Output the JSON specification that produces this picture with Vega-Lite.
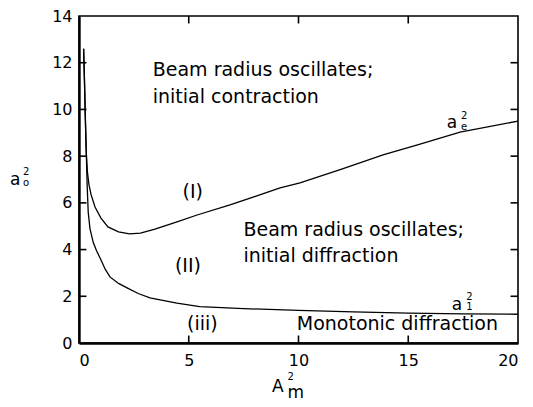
{
  "$schema": "https://vega.github.io/schema/vega-lite/v6.json",
  "width": 439,
  "height": 327,
  "autosize": {"type": "none"},
  "padding": {"left": 79, "top": 16, "right": 15, "bottom": 64},
  "background": "white",
  "config": {
    "view": {"stroke": "black", "strokeWidth": 1.6},
    "axis": {
      "grid": false,
      "labelFont": "DejaVu Sans",
      "labelFontSize": 16,
      "labelColor": "black",
      "tickColor": "black",
      "domainColor": "black"
    }
  },
  "datasets": {
    "curves": [
      {"curve": "ae", "x": 0.21, "y": 12.6},
      {"curve": "ae", "x": 0.25, "y": 11.2},
      {"curve": "ae", "x": 0.29, "y": 9.6},
      {"curve": "ae", "x": 0.33, "y": 8.2},
      {"curve": "ae", "x": 0.38, "y": 7.35},
      {"curve": "ae", "x": 0.45, "y": 6.8},
      {"curve": "ae", "x": 0.55, "y": 6.35},
      {"curve": "ae", "x": 0.73, "y": 5.82},
      {"curve": "ae", "x": 1.0, "y": 5.35},
      {"curve": "ae", "x": 1.32, "y": 4.97},
      {"curve": "ae", "x": 1.8, "y": 4.76},
      {"curve": "ae", "x": 2.3, "y": 4.67},
      {"curve": "ae", "x": 2.8, "y": 4.7},
      {"curve": "ae", "x": 3.46, "y": 4.88},
      {"curve": "ae", "x": 4.5, "y": 5.2},
      {"curve": "ae", "x": 5.38, "y": 5.48},
      {"curve": "ae", "x": 6.88, "y": 5.91},
      {"curve": "ae", "x": 8.0, "y": 6.27},
      {"curve": "ae", "x": 9.16, "y": 6.64},
      {"curve": "ae", "x": 10.07, "y": 6.86},
      {"curve": "ae", "x": 12.0, "y": 7.45},
      {"curve": "ae", "x": 13.85, "y": 8.05},
      {"curve": "ae", "x": 15.5, "y": 8.5},
      {"curve": "ae", "x": 17.36, "y": 9.03},
      {"curve": "ae", "x": 20.0, "y": 9.5},
      {"curve": "a1", "x": 0.21, "y": 12.6},
      {"curve": "a1", "x": 0.25, "y": 11.2},
      {"curve": "a1", "x": 0.29, "y": 9.6},
      {"curve": "a1", "x": 0.33, "y": 8.2},
      {"curve": "a1", "x": 0.37, "y": 6.8},
      {"curve": "a1", "x": 0.42, "y": 5.6},
      {"curve": "a1", "x": 0.5, "y": 4.9},
      {"curve": "a1", "x": 0.65, "y": 4.3},
      {"curve": "a1", "x": 0.8, "y": 3.95},
      {"curve": "a1", "x": 0.96, "y": 3.64},
      {"curve": "a1", "x": 1.2, "y": 3.15},
      {"curve": "a1", "x": 1.41, "y": 2.83},
      {"curve": "a1", "x": 1.8, "y": 2.55},
      {"curve": "a1", "x": 2.19, "y": 2.36},
      {"curve": "a1", "x": 2.7, "y": 2.12},
      {"curve": "a1", "x": 3.23, "y": 1.93},
      {"curve": "a1", "x": 4.46, "y": 1.71},
      {"curve": "a1", "x": 5.5, "y": 1.56},
      {"curve": "a1", "x": 7.5, "y": 1.47},
      {"curve": "a1", "x": 10.0, "y": 1.4},
      {"curve": "a1", "x": 12.5, "y": 1.33},
      {"curve": "a1", "x": 15.0, "y": 1.28},
      {"curve": "a1", "x": 17.5, "y": 1.25},
      {"curve": "a1", "x": 20.0, "y": 1.23}
    ],
    "xticks": [{"t": 5}, {"t": 10}, {"t": 15}],
    "yticks": [{"t": 2}, {"t": 4}, {"t": 6}, {"t": 8}, {"t": 10}, {"t": 12}],
    "big": [
      {"label": "Beam radius oscillates;", "x": 3.36, "y": 11.43},
      {"label": "initial contraction", "x": 3.36, "y": 10.28},
      {"label": "Beam radius oscillates;", "x": 7.49, "y": 4.6},
      {"label": "initial diffraction", "x": 7.49, "y": 3.48},
      {"label": "Monotonic diffraction", "x": 9.92, "y": 0.56},
      {"label": "(I)", "x": 4.72, "y": 6.2},
      {"label": "(II)", "x": 4.37, "y": 3.05},
      {"label": "(iii)", "x": 4.92, "y": 0.56}
    ],
    "mid": [
      {"label": "a", "x": -3.14, "y": 6.77},
      {"label": "a", "x": 16.75, "y": 9.19},
      {"label": "a", "x": 16.98, "y": 1.42},
      {"label": "A", "x": 8.79, "y": -2.1},
      {"label": "m", "x": 9.5, "y": -2.35}
    ],
    "small": [
      {"label": "2", "x": 17.4, "y": 9.57},
      {"label": "e", "x": 17.4, "y": 9.12},
      {"label": "2", "x": 17.64, "y": 1.84},
      {"label": "1", "x": 17.64, "y": 1.42},
      {"label": "2", "x": -2.55, "y": 7.19},
      {"label": "o", "x": -2.55, "y": 6.72},
      {"label": "2", "x": 9.5, "y": -1.58}
    ]
  },
  "layer": [
    {
      "data": {"name": "curves"},
      "mark": {"type": "line", "color": "black", "strokeWidth": 1.3, "clip": false},
      "encoding": {
        "x": {"field": "x", "type": "quantitative", "title": null,
              "scale": {"domain": [0, 20], "nice": false, "zero": false},
              "axis": {"orient": "bottom", "values": [0, 5, 10, 15, 20], "ticks": false, "labelPadding": 9, "domainWidth": 2.4}},
        "y": {"field": "y", "type": "quantitative", "title": null,
              "scale": {"domain": [0, 14], "nice": false, "zero": false},
              "axis": {"orient": "left", "values": [0, 2, 4, 6, 8, 10, 12, 14], "ticks": false, "labelPadding": 7, "domainWidth": 2.4}},
        "detail": {"field": "curve"}
      }
    },
    {
      "data": {"name": "xticks"},
      "mark": {"type": "rule", "color": "black", "strokeWidth": 1.6},
      "encoding": {
        "x": {"field": "t", "type": "quantitative"},
        "y": {"datum": 0},
        "y2": {"datum": 0.32}
      }
    },
    {
      "data": {"name": "xticks"},
      "mark": {"type": "rule", "color": "black", "strokeWidth": 1.6},
      "encoding": {
        "x": {"field": "t", "type": "quantitative"},
        "y": {"datum": 14},
        "y2": {"datum": 13.68}
      }
    },
    {
      "data": {"name": "yticks"},
      "mark": {"type": "rule", "color": "black", "strokeWidth": 1.6},
      "encoding": {
        "y": {"field": "t", "type": "quantitative"},
        "x": {"datum": 0},
        "x2": {"datum": 0.34}
      }
    },
    {
      "data": {"name": "yticks"},
      "mark": {"type": "rule", "color": "black", "strokeWidth": 1.6},
      "encoding": {
        "y": {"field": "t", "type": "quantitative"},
        "x": {"datum": 20},
        "x2": {"datum": 19.66}
      }
    },
    {
      "data": {"name": "big"},
      "mark": {"type": "text", "align": "left", "baseline": "alphabetic", "font": "DejaVu Sans", "fontSize": 19, "color": "black", "clip": false},
      "encoding": {
        "x": {"field": "x", "type": "quantitative"},
        "y": {"field": "y", "type": "quantitative"},
        "text": {"field": "label"}
      }
    },
    {
      "data": {"name": "mid"},
      "mark": {"type": "text", "align": "left", "baseline": "alphabetic", "font": "DejaVu Sans", "fontSize": 17, "color": "black", "clip": false},
      "encoding": {
        "x": {"field": "x", "type": "quantitative"},
        "y": {"field": "y", "type": "quantitative"},
        "text": {"field": "label"}
      }
    },
    {
      "data": {"name": "small"},
      "mark": {"type": "text", "align": "left", "baseline": "alphabetic", "font": "DejaVu Sans", "fontSize": 10, "color": "black", "clip": false},
      "encoding": {
        "x": {"field": "x", "type": "quantitative"},
        "y": {"field": "y", "type": "quantitative"},
        "text": {"field": "label"}
      }
    }
  ]
}
